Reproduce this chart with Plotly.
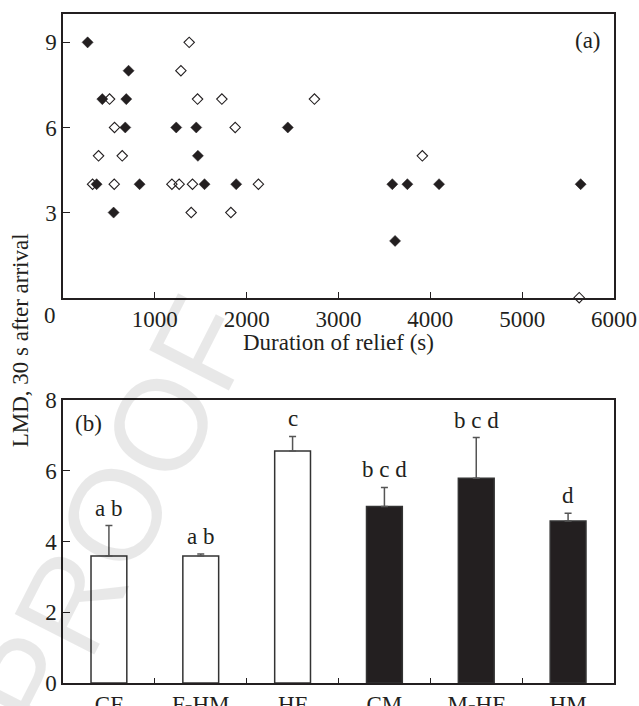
import plotly.graph_objects as go

# ---- Panel (a): LMD vs duration of relief ----
dur_filled = [268, 714, 428, 689, 678, 1233, 1451, 2448, 1469, 366, 834, 1541, 1886, 551,
              3586, 3750, 4095, 5637, 3616]
lmd_filled = [9, 8, 7, 7, 6, 6, 6, 6, 5, 4, 4, 4, 4, 3, 4, 4, 4, 4, 2]
dur_open = [1374, 1284, 507, 1465, 1730, 2738, 561, 1875, 387, 645, 322, 558, 1186, 1265,
            1410, 2128, 1396, 1828, 3913, 5621]
lmd_open = [9, 8, 7, 7, 7, 7, 6, 6, 5, 5, 4, 4, 4, 4, 4, 4, 3, 3, 5, 0]
x_ticks_a = [1000, 2000, 3000, 4000, 5000, 6000]
y_ticks_a = [3, 6, 9]

# ---- Panel (b): mean LMD per group ----
groups = ["CF", "F-HM", "HF", "CM", "M-HF", "HM"]
means = [3.59, 3.59, 6.56, 4.99, 5.79, 4.58]
err_up = [0.86, 0.06, 0.41, 0.54, 1.15, 0.22]
letters = ["a b", "a b", "c", "b c d", "b c d", "d"]
filled_group = [False, False, False, True, True, True]
y_ticks_b = [0, 2, 4, 6, 8]

INK = "#231f20"
FONT = dict(family="Liberation Serif", size=23, color=INK)

fig = go.Figure()

fig.add_trace(go.Scatter(
    x=dur_open, y=lmd_open, mode="markers", xaxis="x", yaxis="y",
    marker=dict(symbol="diamond-open", size=8, color=INK, line=dict(width=1.1, color=INK)),
    cliponaxis=False, showlegend=False))
fig.add_trace(go.Scatter(
    x=dur_filled, y=lmd_filled, mode="markers", xaxis="x", yaxis="y",
    marker=dict(symbol="diamond", size=8.5, color=INK, line=dict(width=0.5, color=INK)),
    cliponaxis=False, showlegend=False))

fig.add_trace(go.Bar(
    x=groups, y=means, xaxis="x2", yaxis="y2", width=0.39,
    marker=dict(color=[INK if f else "white" for f in filled_group],
                line=dict(color="#333333", width=1.5)),
    error_y=dict(type="data", symmetric=False, array=err_up, arrayminus=[0] * len(err_up),
                 color="#555555", thickness=1.5, width=3.5),
    showlegend=False))

axis_common = dict(showline=True, mirror=True, linecolor=INK, linewidth=1.5,
                   showgrid=False, zeroline=False, ticks="inside", tickcolor=INK,
                   tickwidth=1.3, tickfont=FONT, automargin=False)

fig.update_layout(
    width=639, height=706,
    margin=dict(l=63, r=24.5, t=14.3, b=23),
    paper_bgcolor="white", plot_bgcolor="white",
    font=FONT,
    xaxis=dict(domain=[0, 1], anchor="y", range=[0, 6000], tickvals=x_ticks_a,
               ticklen=6, **axis_common),
    yaxis=dict(domain=[0.576, 1], anchor="x", range=[0, 10], tickvals=y_ticks_a,
               ticklen=7, **axis_common),
    xaxis2=dict(domain=[0, 1], anchor="y2", type="category", range=[-0.5, 5.5],
                tickson="boundaries", ticklen=5, **axis_common),
    yaxis2=dict(domain=[0, 0.423], anchor="x2", range=[0, 8], tickvals=y_ticks_b,
                ticklen=7, **axis_common),
)

ann = []
for g, m, e, t in zip(groups, means, err_up, letters):
    ann.append(dict(x=g, y=m + e, xref="x2", yref="y2", text=t, showarrow=False,
                    yanchor="bottom", yshift=3, font=FONT))
ann += [
    dict(x=0.952, y=0.961, xref="paper", yref="paper", text="(a)", showarrow=False,
         xanchor="center", yanchor="middle", font=FONT),
    dict(x=0.0458, y=0.3886, xref="paper", yref="paper", text="(b)", showarrow=False,
         xanchor="center", yanchor="middle", font=FONT),
    dict(x=-0.0229, y=0.550, xref="paper", yref="paper", text="0", showarrow=False,
         xanchor="center", yanchor="middle", font=FONT),
    dict(x=0.5, y=0.5097, xref="paper", yref="paper", text="Duration of relief (s)",
         showarrow=False, xanchor="center", yanchor="middle", font=FONT),
    dict(x=-0.0774, y=0.5127, xref="paper", yref="paper", text="LMD, 30 s after arrival",
         showarrow=False, textangle=-90, xanchor="center", yanchor="middle", font=FONT),
    dict(x=(115 - 63) / 551.8, y=(683 - 515) / 669, xref="paper", yref="paper",
         text="PROOF", showarrow=False, textangle=-63, xanchor="center", yanchor="middle",
         font=dict(family="Liberation Sans", size=130, color="rgba(0,0,0,0.09)")),
]
fig.update_layout(annotations=ann)

fig.write_html("out.html")
